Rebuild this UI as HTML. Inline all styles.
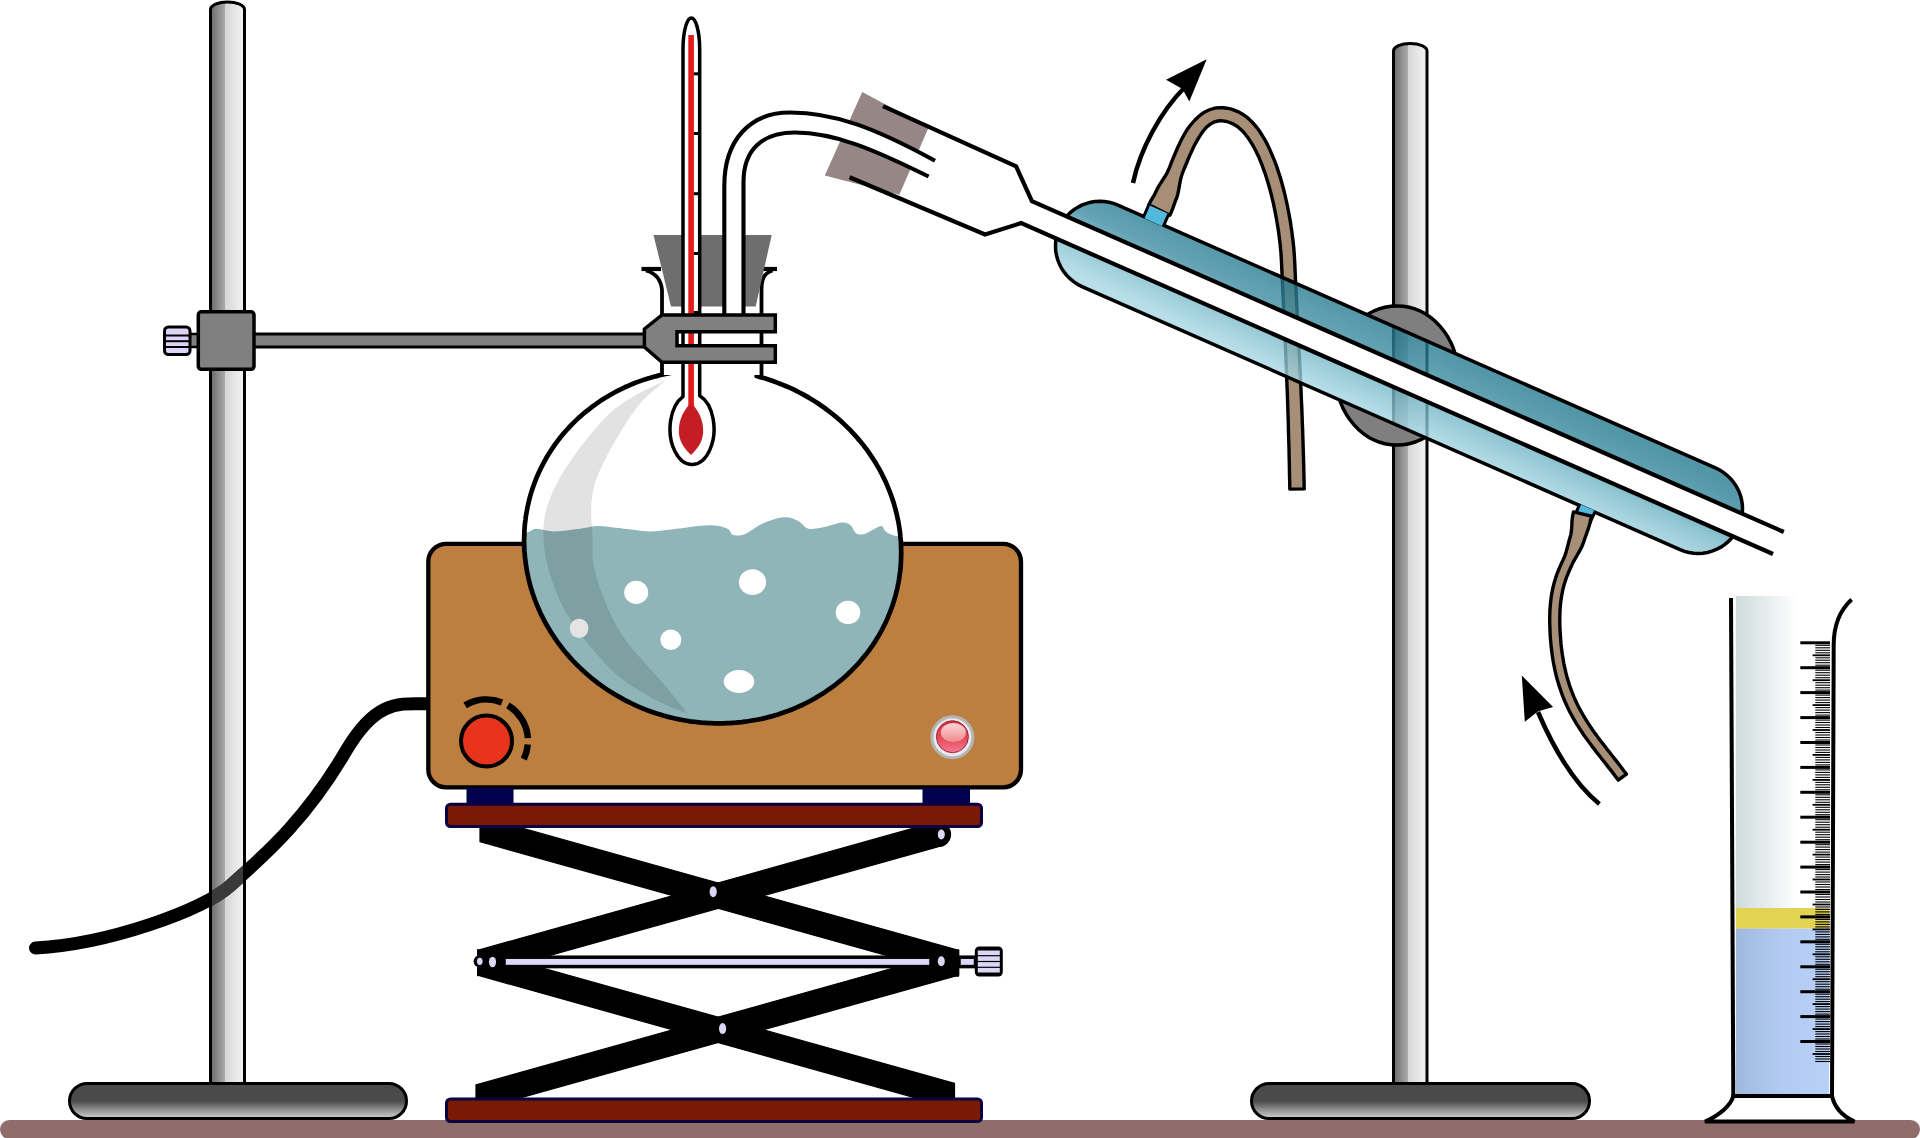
<!DOCTYPE html><html><head><meta charset="utf-8"><style>html,body{margin:0;padding:0;background:#fff;overflow:hidden}svg{display:block}</style></head><body><svg width="1920" height="1138" viewBox="0 0 1920 1138">
<defs>
<linearGradient id="rod" x1="0" y1="0" x2="1" y2="0">
 <stop offset="0" stop-color="#6a6a6a"/><stop offset="0.42" stop-color="#a9a9a9"/>
 <stop offset="0.42" stop-color="#d6d6d6"/><stop offset="1" stop-color="#f4f4f4"/></linearGradient>
<linearGradient id="base" x1="0" y1="0" x2="0" y2="1">
 <stop offset="0" stop-color="#4a4a4a"/><stop offset="0.5" stop-color="#4a4a4a"/><stop offset="1" stop-color="#d4d4d4"/></linearGradient>
<linearGradient id="cyl" x1="0" y1="0" x2="1" y2="0">
 <stop offset="0" stop-color="#cfdbdb"/><stop offset="0.65" stop-color="#ffffff"/></linearGradient>
<linearGradient id="blue" x1="0" y1="0" x2="1" y2="0">
 <stop offset="0" stop-color="#9fb8dc"/><stop offset="0.5" stop-color="#b3cbf2"/><stop offset="1" stop-color="#b8d0f6"/></linearGradient>
<radialGradient id="led" cx="0.5" cy="0.35" r="0.6">
 <stop offset="0" stop-color="#fbd3da"/><stop offset="0.5" stop-color="#ee6f86"/><stop offset="1" stop-color="#d5203e"/></radialGradient>
<radialGradient id="ring" cx="0.5" cy="0.5" r="0.5">
 <stop offset="0.6" stop-color="#f6f6f6"/><stop offset="1" stop-color="#b0b0b0"/></radialGradient>
</defs>
<rect width="1920" height="1138" fill="#ffffff"/>
<rect x="0" y="1120" width="1920" height="19" rx="9.5" fill="#906c6a"/>
<rect x="69.5" y="1083.5" width="337.0" height="35" rx="17.5" fill="url(#base)" stroke="#000" stroke-width="3"/>
<path d="M210.5 1083.5 V9.5 A17.0 7.5 0 0 1 244.5 9.5 V1083.5 Z" fill="url(#rod)" stroke="#000" stroke-width="3"/>
<path d="M35.5 948.0 C107.1 944.4 203.5 910.3 230.8 885.3 C258.5 859.9 302.6 825.0 346.2 750.5 C376.9 698.1 400.9 703.8 429.0 703.8" fill="none" stroke="#000" stroke-width="13" stroke-linecap="round" stroke-linejoin="round"/>
<clipPath id="rodclip"><rect x="212" y="0" width="31" height="1080"/></clipPath>
<path d="M35.5 948.0 C107.1 944.4 203.5 910.3 230.8 885.3 C258.5 859.9 302.6 825.0 346.2 750.5 C376.9 698.1 400.9 703.8 429.0 703.8" fill="none" stroke="#3a3a3a" stroke-width="13" clip-path="url(#rodclip)"/>
<rect x="250" y="334" width="400" height="13" fill="#808080" stroke="#000" stroke-width="3"/>
<rect x="189" y="334" width="10" height="13" fill="#808080" stroke="#000" stroke-width="2.5"/>
<rect x="164.5" y="327" width="25.5" height="27.5" rx="4" fill="#ddd3f6" stroke="#000" stroke-width="3"/>
<line x1="166" y1="335.5" x2="189" y2="335.5" stroke="#000" stroke-width="2"/>
<line x1="166" y1="341.2" x2="189" y2="341.2" stroke="#000" stroke-width="2"/>
<line x1="166" y1="347" x2="189" y2="347" stroke="#000" stroke-width="2"/>
<rect x="198.3" y="311.8" width="55.7" height="57.5" rx="3" fill="#808080" stroke="#000" stroke-width="3.5"/>
<rect x="1251.5" y="1083.5" width="338.0" height="35" rx="17.5" fill="url(#base)" stroke="#000" stroke-width="3"/>
<path d="M1393.5 1083.5 V51 A16.75 7.5 0 0 1 1427 51 V1083.5 Z" fill="url(#rod)" stroke="#000" stroke-width="3"/>
<rect x="428.3" y="543.8" width="592.7" height="243.6" rx="18" fill="#bd7f3f" stroke="#000" stroke-width="4.3"/>
<circle cx="486.5" cy="741" r="25.5" fill="#e8341c" stroke="#000" stroke-width="4"/>
<path d="M465.1 705.4 A41.5 41.5 0 0 1 502.0 702.5" fill="none" stroke="#000" stroke-width="6.5"/>
<path d="M507.9 705.4 A41.5 41.5 0 0 1 527.9 738.1" fill="none" stroke="#000" stroke-width="6.5"/>
<path d="M527.8 744.6 A41.5 41.5 0 0 1 523.8 759.2" fill="none" stroke="#000" stroke-width="6.5"/>
<circle cx="952.4" cy="737.3" r="20.5" fill="#e6e8ec" stroke="#b4b4b4" stroke-width="3"/>
<linearGradient id="ledg" x1="0" y1="0" x2="0" y2="1"><stop offset="0" stop-color="#c83040"/><stop offset="0.55" stop-color="#e84a5c"/><stop offset="1" stop-color="#f27a90"/></linearGradient>
<linearGradient id="ledh" x1="0" y1="0" x2="0" y2="1"><stop offset="0" stop-color="#fbd6d6"/><stop offset="1" stop-color="#f08a8e"/></linearGradient>
<circle cx="952.4" cy="736.7" r="16" fill="url(#ledg)" stroke="#a02838" stroke-width="1"/>
<ellipse cx="953.3" cy="732.5" rx="12.5" ry="9.5" fill="url(#ledh)"/>
<rect x="466.5" y="788" width="47" height="15" fill="#00004e"/>
<rect x="922.5" y="788" width="47.5" height="15" fill="#00004e"/>
<polygon points="480.0,816.3 958.6,950.3 958.6,975.7 480.0,841.7" fill="#000" stroke="#000" stroke-width="1.2" stroke-linejoin="round"/>
<polygon points="477.6,950.3 938.5,821.2 938.5,846.7 477.6,975.7" fill="#000" stroke="#000" stroke-width="1.2" stroke-linejoin="round"/>
<polygon points="476.0,1084.9 958.6,949.8 958.6,975.2 476.0,1110.3" fill="#000" stroke="#000" stroke-width="1.2" stroke-linejoin="round"/>
<polygon points="477.6,949.8 954.5,1083.3 954.5,1108.8 477.6,975.2" fill="#000" stroke="#000" stroke-width="1.2" stroke-linejoin="round"/>
<circle cx="938.5" cy="834.5" r="12.6" fill="#000"/>
<rect x="504" y="957.2" width="427" height="9.4" fill="#ddd6f6" stroke="#000" stroke-width="3.5"/>
<rect x="959" y="957.2" width="16.5" height="9.4" fill="#ddd6f6" stroke="#000" stroke-width="3.5"/>
<rect x="931" y="950.7" width="28" height="26" fill="#000"/>
<rect x="477.6" y="950.5" width="26" height="25.5" fill="#000"/>
<circle cx="479.8" cy="961.3" r="6.2" fill="#000"/>
<rect x="974.8" y="946.5" width="28" height="30" rx="4.5" fill="#000"/>
<rect x="977.8" y="950.5" width="22" height="4.6" fill="#ddd6f6"/>
<rect x="977.8" y="956.3000000000001" width="22" height="4.6" fill="#ddd6f6"/>
<rect x="977.8" y="962.1" width="22" height="4.6" fill="#ddd6f6"/>
<rect x="977.8" y="967.9000000000001" width="22" height="4.6" fill="#ddd6f6"/>
<ellipse cx="713.2" cy="891.7" rx="3.6" ry="5.5" fill="#ddd6f6"/>
<ellipse cx="722.6" cy="1028.6" rx="3.6" ry="5.5" fill="#ddd6f6"/>
<ellipse cx="941.3" cy="834.5" rx="3.5" ry="5" fill="#ddd6f6"/>
<ellipse cx="492.5" cy="962" rx="3.6" ry="5.2" fill="#ddd6f6"/>
<ellipse cx="941.3" cy="961.3" rx="3.5" ry="5" fill="#ddd6f6"/>
<ellipse cx="479.8" cy="961.3" rx="2.8" ry="3.6" fill="#ddd6f6"/>
<rect x="446.5" y="804.2" width="535" height="22.3" rx="4" fill="#7a1906" stroke="#0a0040" stroke-width="3"/>
<rect x="446.5" y="1099" width="535" height="22.5" rx="4" fill="#7a1906" stroke="#0a0040" stroke-width="3"/>
<clipPath id="flaskclip"><path d="M896.3 592.7 L895.5 595.6 L894.6 598.6 L893.8 601.5 L892.8 604.5 L891.8 607.4 L890.8 610.3 L889.7 613.1 L888.5 616.0 L887.3 618.8 L886.0 621.6 L884.7 624.4 L883.3 627.1 L881.9 629.9 L880.4 632.6 L878.9 635.3 L877.3 637.9 L875.7 640.6 L874.0 643.2 L872.3 645.7 L870.5 648.3 L868.7 650.8 L866.8 653.3 L864.9 655.7 L862.9 658.1 L860.9 660.5 L858.9 662.8 L856.8 665.1 L854.6 667.4 L852.5 669.6 L850.2 671.8 L848.0 674.0 L845.6 676.1 L843.3 678.2 L840.9 680.2 L838.5 682.2 L836.0 684.2 L833.5 686.1 L830.9 688.0 L828.4 689.8 L825.7 691.6 L823.1 693.3 L820.4 695.0 L817.7 696.7 L814.9 698.3 L812.2 699.9 L809.4 701.4 L806.5 702.8 L803.6 704.3 L800.8 705.6 L797.8 707.0 L794.9 708.2 L791.9 709.5 L788.9 710.6 L785.9 711.8 L782.8 712.8 L779.8 713.9 L776.7 714.8 L773.6 715.7 L770.5 716.6 L767.3 717.4 L764.2 718.2 L761.0 718.9 L757.8 719.6 L754.6 720.2 L751.4 720.7 L748.2 721.2 L744.9 721.7 L741.7 722.1 L738.4 722.4 L735.2 722.7 L731.9 723.0 L728.6 723.1 L725.3 723.3 L722.1 723.3 L718.8 723.4 L715.5 723.3 L712.2 723.2 L708.9 723.1 L705.6 722.9 L702.3 722.7 L699.0 722.4 L695.8 722.0 L692.5 721.6 L689.2 721.1 L685.9 720.6 L682.7 720.0 L679.5 719.4 L676.2 718.8 L673.0 718.0 L669.8 717.2 L666.6 716.4 L663.4 715.5 L660.2 714.6 L657.1 713.6 L653.9 712.6 L650.8 711.5 L647.7 710.4 L644.6 709.2 L641.6 707.9 L638.6 706.6 L635.5 705.3 L632.5 703.9 L629.6 702.5 L626.6 701.0 L623.7 699.5 L620.8 697.9 L618.0 696.3 L615.1 694.6 L612.3 692.9 L609.6 691.2 L606.8 689.4 L604.1 687.5 L601.5 685.7 L598.8 683.7 L596.2 681.8 L593.6 679.8 L591.1 677.7 L588.6 675.6 L586.2 673.5 L583.7 671.3 L581.3 669.1 L579.0 666.9 L576.7 664.6 L574.4 662.3 L572.2 659.9 L570.1 657.5 L567.9 655.1 L565.8 652.7 L563.8 650.2 L561.8 647.7 L559.9 645.1 L557.9 642.5 L556.1 639.9 L554.3 637.3 L552.5 634.6 L550.8 632.0 L549.1 629.2 L547.5 626.5 L546.0 623.7 L544.5 620.9 L543.0 618.1 L541.6 615.3 L540.2 612.4 L538.9 609.6 L537.7 606.7 L536.5 603.8 L535.3 600.8 L534.2 597.9 L533.2 594.9 L532.2 592.0 L531.3 589.0 L530.4 586.0 L529.6 583.0 L528.8 579.9 L528.1 576.9 L527.5 573.8 L526.9 570.8 L526.4 567.7 L525.9 564.7 L525.5 561.6 L525.1 558.5 L524.8 555.4 L524.5 552.4 L524.4 549.3 L524.2 546.2 L524.1 543.1 L524.1 540.0 L524.2 536.9 L524.3 533.9 L524.4 530.8 L524.6 527.7 L524.9 524.6 L525.2 521.6 L525.6 518.5 L526.0 515.5 L526.5 512.5 L527.1 509.4 L527.7 506.4 L528.3 503.4 L529.1 500.4 L529.8 497.5 L530.7 494.5 L531.6 491.6 L532.5 488.6 L533.5 485.7 L534.6 482.8 L535.7 480.0 L536.8 477.1 L538.0 474.3 L539.3 471.5 L540.6 468.7 L542.0 466.0 L543.4 463.2 L544.9 460.5 L546.4 457.8 L548.0 455.2 L549.6 452.5 L551.3 449.9 L553.0 447.4 L554.8 444.8 L556.6 442.3 L558.5 439.8 L560.4 437.4 L562.4 435.0 L564.4 432.6 L566.4 430.3 L568.5 428.0 L570.7 425.7 L572.9 423.5 L575.1 421.3 L577.4 419.1 L579.7 417.0 L582.0 414.9 L584.4 412.9 L586.9 410.9 L589.3 408.9 L591.8 407.0 L594.4 405.1 L597.0 403.3 L599.6 401.5 L602.2 399.8 L604.9 398.1 L607.6 396.4 L610.4 394.8 L613.2 393.2 L616.0 391.7 L618.8 390.3 L621.7 388.8 L624.6 387.5 L627.5 386.1 L630.4 384.9 L633.4 383.6 L636.4 382.5 L639.4 381.3 L642.5 380.3 L645.5 379.2 L648.6 378.3 L651.7 377.4 L654.9 376.5 L658.0 375.7 L661.2 374.9 L664.3 374.2 L667.5 373.5 L670.7 372.9 L673.9 372.4 L677.2 371.9 L680.4 371.4 L683.6 371.0 L686.9 370.7 L690.2 370.4 L693.4 370.1 L696.7 370.0 L700.0 369.8 L703.3 369.8 L706.6 369.7 L709.8 369.8 L713.1 369.9 L716.4 370.0 L719.7 370.2 L723.0 370.4 L726.3 370.7 L729.6 371.1 L732.8 371.5 L736.1 372.0 L739.4 372.5 L742.6 373.1 L745.9 373.7 L749.1 374.3 L752.3 375.1 L755.5 375.9 L758.7 376.7 L761.9 377.6 L765.1 378.5 L768.2 379.5 L771.4 380.5 L774.5 381.6 L777.6 382.7 L780.7 383.9 L783.7 385.2 L786.8 386.5 L789.8 387.8 L792.8 389.2 L795.7 390.6 L798.7 392.1 L801.6 393.6 L804.5 395.2 L807.3 396.8 L810.2 398.5 L813.0 400.2 L815.7 401.9 L818.5 403.7 L821.2 405.6 L823.9 407.4 L826.5 409.4 L829.1 411.3 L831.7 413.3 L834.2 415.4 L836.7 417.5 L839.2 419.6 L841.6 421.8 L844.0 424.0 L846.3 426.2 L848.6 428.5 L850.9 430.8 L853.1 433.2 L855.3 435.6 L857.4 438.0 L859.5 440.4 L861.5 442.9 L863.5 445.4 L865.5 448.0 L867.4 450.6 L869.2 453.2 L871.0 455.8 L872.8 458.5 L874.5 461.1 L876.2 463.9 L877.8 466.6 L879.4 469.4 L880.9 472.2 L882.3 475.0 L883.7 477.8 L885.1 480.7 L886.4 483.5 L887.6 486.4 L888.8 489.3 L890.0 492.3 L891.1 495.2 L892.1 498.2 L893.1 501.1 L894.0 504.1 L894.9 507.1 L895.7 510.1 L896.5 513.2 L897.2 516.2 L897.8 519.3 L898.4 522.3 L898.9 525.4 L899.4 528.4 L899.8 531.5 L900.2 534.6 L900.5 537.7 L900.8 540.7 L901.0 543.8 L901.1 546.9 L901.2 550.0 L901.2 553.1 L901.2 556.2 L901.1 559.2 L900.9 562.3 L900.7 565.4 L900.4 568.5 L900.1 571.5 L899.7 574.6 L899.3 577.6 L898.8 580.6 L898.2 583.7 L897.6 586.7 L897.0 589.7 Z"/></clipPath>
<path d="M896.3 592.7 L895.5 595.6 L894.6 598.6 L893.8 601.5 L892.8 604.5 L891.8 607.4 L890.8 610.3 L889.7 613.1 L888.5 616.0 L887.3 618.8 L886.0 621.6 L884.7 624.4 L883.3 627.1 L881.9 629.9 L880.4 632.6 L878.9 635.3 L877.3 637.9 L875.7 640.6 L874.0 643.2 L872.3 645.7 L870.5 648.3 L868.7 650.8 L866.8 653.3 L864.9 655.7 L862.9 658.1 L860.9 660.5 L858.9 662.8 L856.8 665.1 L854.6 667.4 L852.5 669.6 L850.2 671.8 L848.0 674.0 L845.6 676.1 L843.3 678.2 L840.9 680.2 L838.5 682.2 L836.0 684.2 L833.5 686.1 L830.9 688.0 L828.4 689.8 L825.7 691.6 L823.1 693.3 L820.4 695.0 L817.7 696.7 L814.9 698.3 L812.2 699.9 L809.4 701.4 L806.5 702.8 L803.6 704.3 L800.8 705.6 L797.8 707.0 L794.9 708.2 L791.9 709.5 L788.9 710.6 L785.9 711.8 L782.8 712.8 L779.8 713.9 L776.7 714.8 L773.6 715.7 L770.5 716.6 L767.3 717.4 L764.2 718.2 L761.0 718.9 L757.8 719.6 L754.6 720.2 L751.4 720.7 L748.2 721.2 L744.9 721.7 L741.7 722.1 L738.4 722.4 L735.2 722.7 L731.9 723.0 L728.6 723.1 L725.3 723.3 L722.1 723.3 L718.8 723.4 L715.5 723.3 L712.2 723.2 L708.9 723.1 L705.6 722.9 L702.3 722.7 L699.0 722.4 L695.8 722.0 L692.5 721.6 L689.2 721.1 L685.9 720.6 L682.7 720.0 L679.5 719.4 L676.2 718.8 L673.0 718.0 L669.8 717.2 L666.6 716.4 L663.4 715.5 L660.2 714.6 L657.1 713.6 L653.9 712.6 L650.8 711.5 L647.7 710.4 L644.6 709.2 L641.6 707.9 L638.6 706.6 L635.5 705.3 L632.5 703.9 L629.6 702.5 L626.6 701.0 L623.7 699.5 L620.8 697.9 L618.0 696.3 L615.1 694.6 L612.3 692.9 L609.6 691.2 L606.8 689.4 L604.1 687.5 L601.5 685.7 L598.8 683.7 L596.2 681.8 L593.6 679.8 L591.1 677.7 L588.6 675.6 L586.2 673.5 L583.7 671.3 L581.3 669.1 L579.0 666.9 L576.7 664.6 L574.4 662.3 L572.2 659.9 L570.1 657.5 L567.9 655.1 L565.8 652.7 L563.8 650.2 L561.8 647.7 L559.9 645.1 L557.9 642.5 L556.1 639.9 L554.3 637.3 L552.5 634.6 L550.8 632.0 L549.1 629.2 L547.5 626.5 L546.0 623.7 L544.5 620.9 L543.0 618.1 L541.6 615.3 L540.2 612.4 L538.9 609.6 L537.7 606.7 L536.5 603.8 L535.3 600.8 L534.2 597.9 L533.2 594.9 L532.2 592.0 L531.3 589.0 L530.4 586.0 L529.6 583.0 L528.8 579.9 L528.1 576.9 L527.5 573.8 L526.9 570.8 L526.4 567.7 L525.9 564.7 L525.5 561.6 L525.1 558.5 L524.8 555.4 L524.5 552.4 L524.4 549.3 L524.2 546.2 L524.1 543.1 L524.1 540.0 L524.2 536.9 L524.3 533.9 L524.4 530.8 L524.6 527.7 L524.9 524.6 L525.2 521.6 L525.6 518.5 L526.0 515.5 L526.5 512.5 L527.1 509.4 L527.7 506.4 L528.3 503.4 L529.1 500.4 L529.8 497.5 L530.7 494.5 L531.6 491.6 L532.5 488.6 L533.5 485.7 L534.6 482.8 L535.7 480.0 L536.8 477.1 L538.0 474.3 L539.3 471.5 L540.6 468.7 L542.0 466.0 L543.4 463.2 L544.9 460.5 L546.4 457.8 L548.0 455.2 L549.6 452.5 L551.3 449.9 L553.0 447.4 L554.8 444.8 L556.6 442.3 L558.5 439.8 L560.4 437.4 L562.4 435.0 L564.4 432.6 L566.4 430.3 L568.5 428.0 L570.7 425.7 L572.9 423.5 L575.1 421.3 L577.4 419.1 L579.7 417.0 L582.0 414.9 L584.4 412.9 L586.9 410.9 L589.3 408.9 L591.8 407.0 L594.4 405.1 L597.0 403.3 L599.6 401.5 L602.2 399.8 L604.9 398.1 L607.6 396.4 L610.4 394.8 L613.2 393.2 L616.0 391.7 L618.8 390.3 L621.7 388.8 L624.6 387.5 L627.5 386.1 L630.4 384.9 L633.4 383.6 L636.4 382.5 L639.4 381.3 L642.5 380.3 L645.5 379.2 L648.6 378.3 L651.7 377.4 L654.9 376.5 L658.0 375.7 L661.2 374.9 L664.3 374.2 L667.5 373.5 L670.7 372.9 L673.9 372.4 L677.2 371.9 L680.4 371.4 L683.6 371.0 L686.9 370.7 L690.2 370.4 L693.4 370.1 L696.7 370.0 L700.0 369.8 L703.3 369.8 L706.6 369.7 L709.8 369.8 L713.1 369.9 L716.4 370.0 L719.7 370.2 L723.0 370.4 L726.3 370.7 L729.6 371.1 L732.8 371.5 L736.1 372.0 L739.4 372.5 L742.6 373.1 L745.9 373.7 L749.1 374.3 L752.3 375.1 L755.5 375.9 L758.7 376.7 L761.9 377.6 L765.1 378.5 L768.2 379.5 L771.4 380.5 L774.5 381.6 L777.6 382.7 L780.7 383.9 L783.7 385.2 L786.8 386.5 L789.8 387.8 L792.8 389.2 L795.7 390.6 L798.7 392.1 L801.6 393.6 L804.5 395.2 L807.3 396.8 L810.2 398.5 L813.0 400.2 L815.7 401.9 L818.5 403.7 L821.2 405.6 L823.9 407.4 L826.5 409.4 L829.1 411.3 L831.7 413.3 L834.2 415.4 L836.7 417.5 L839.2 419.6 L841.6 421.8 L844.0 424.0 L846.3 426.2 L848.6 428.5 L850.9 430.8 L853.1 433.2 L855.3 435.6 L857.4 438.0 L859.5 440.4 L861.5 442.9 L863.5 445.4 L865.5 448.0 L867.4 450.6 L869.2 453.2 L871.0 455.8 L872.8 458.5 L874.5 461.1 L876.2 463.9 L877.8 466.6 L879.4 469.4 L880.9 472.2 L882.3 475.0 L883.7 477.8 L885.1 480.7 L886.4 483.5 L887.6 486.4 L888.8 489.3 L890.0 492.3 L891.1 495.2 L892.1 498.2 L893.1 501.1 L894.0 504.1 L894.9 507.1 L895.7 510.1 L896.5 513.2 L897.2 516.2 L897.8 519.3 L898.4 522.3 L898.9 525.4 L899.4 528.4 L899.8 531.5 L900.2 534.6 L900.5 537.7 L900.8 540.7 L901.0 543.8 L901.1 546.9 L901.2 550.0 L901.2 553.1 L901.2 556.2 L901.1 559.2 L900.9 562.3 L900.7 565.4 L900.4 568.5 L900.1 571.5 L899.7 574.6 L899.3 577.6 L898.8 580.6 L898.2 583.7 L897.6 586.7 L897.0 589.7 Z" fill="#ffffff"/>
<path d="M515.0 533.0 L516.8 532.9 L519.3 532.9 L522.2 532.8 L525.1 532.5 L527.6 532.2 L529.5 531.6 L531.0 530.7 L532.4 529.8 L534.1 529.0 L536.4 528.7 L539.2 528.9 L542.3 529.6 L545.8 530.4 L549.7 531.1 L553.9 531.4 L558.8 531.2 L564.2 530.7 L569.9 530.0 L575.4 529.3 L580.3 528.7 L584.2 528.1 L587.6 527.4 L590.7 526.8 L594.0 526.3 L597.9 526.1 L602.6 526.3 L607.8 526.8 L613.3 527.4 L618.8 528.1 L624.2 528.7 L629.5 529.3 L634.8 530.0 L640.0 530.7 L645.3 531.2 L650.6 531.4 L655.8 531.2 L660.8 530.7 L666.0 530.1 L671.3 529.4 L677.0 528.7 L683.4 527.9 L690.5 527.0 L697.6 526.1 L704.3 525.5 L710.0 525.2 L714.7 525.4 L718.7 526.0 L722.2 526.8 L725.1 527.7 L727.6 528.7 L729.3 529.9 L730.2 531.3 L730.8 532.8 L731.5 534.1 L732.8 534.9 L734.7 535.3 L737.0 535.5 L739.5 535.4 L742.2 534.9 L745.1 534.0 L748.2 532.4 L751.6 530.2 L755.2 527.8 L758.9 525.4 L762.7 523.4 L766.8 521.7 L771.2 520.2 L775.7 518.8 L780.0 517.8 L783.8 517.3 L787.1 517.3 L790.1 517.8 L792.9 518.6 L795.4 519.7 L797.9 520.8 L800.1 522.3 L802.1 524.1 L804.0 526.0 L806.0 527.7 L808.4 528.7 L811.2 529.0 L814.3 528.8 L817.5 528.3 L820.8 527.7 L824.2 527.0 L827.7 526.2 L831.5 525.1 L835.3 524.0 L838.8 523.1 L841.8 522.6 L844.2 522.6 L846.1 522.9 L847.8 523.4 L849.2 524.2 L850.6 525.2 L851.8 526.6 L852.8 528.3 L853.7 530.2 L854.7 531.9 L855.9 533.1 L857.3 533.9 L858.8 534.4 L860.5 534.6 L862.4 534.5 L864.7 534.0 L867.6 532.8 L871.0 530.8 L874.6 528.7 L877.9 527.0 L880.5 526.1 L882.2 526.3 L883.2 527.3 L883.9 528.7 L884.6 530.2 L885.7 531.4 L887.1 532.4 L888.6 533.4 L890.3 534.3 L892.3 535.1 L894.5 535.7 L897.4 536.0 L901.0 536.1 L904.6 536.1 L907.8 536.0 L910.0 536.0 L910 740 L515 740 Z" fill="#8fb5b8" clip-path="url(#flaskclip)"/>
<path d="M666.0 380.0 L661.7 382.3 L655.9 385.1 L649.0 388.3 L641.3 392.1 L633.2 396.5 L625.1 401.4 L617.2 406.9 L610.0 413.0 L603.0 420.1 L595.6 428.2 L588.2 437.1 L580.8 446.5 L573.9 456.1 L567.4 465.5 L561.7 474.6 L557.0 483.0 L553.2 490.7 L550.1 497.9 L547.6 504.9 L545.7 511.7 L544.4 518.5 L543.6 525.4 L543.3 532.5 L543.5 540.0 L544.2 547.9 L545.5 556.2 L547.3 564.7 L549.6 573.3 L552.4 582.0 L555.6 590.5 L559.1 598.9 L563.0 607.0 L567.4 615.0 L572.5 623.1 L578.1 631.1 L584.1 639.0 L590.2 646.6 L596.4 653.8 L602.3 660.5 L608.0 666.5 L613.4 671.8 L618.8 676.5 L624.1 680.7 L629.4 684.4 L634.7 687.8 L639.9 691.0 L645.0 694.0 L650.0 697.0 L655.2 699.9 L660.7 702.6 L666.2 705.1 L671.6 707.4 L676.7 709.5 L681.3 711.3 L685.1 712.8 L688.0 714.0 L688.0 714.0 L686.1 711.7 L683.7 708.7 L680.9 705.1 L677.6 701.1 L674.1 696.7 L670.2 692.0 L666.2 687.1 L662.0 682.0 L657.4 676.7 L652.2 670.9 L646.6 664.9 L640.9 658.6 L635.1 652.1 L629.6 645.4 L624.5 638.7 L620.0 632.0 L616.0 625.1 L612.3 617.7 L608.8 610.2 L605.6 602.6 L602.7 595.1 L600.1 587.9 L597.9 581.1 L596.0 575.0 L594.5 569.7 L593.6 565.2 L593.0 561.2 L592.7 557.5 L592.5 553.8 L592.6 549.8 L592.6 545.3 L592.6 540.0 L592.4 534.0 L592.0 527.6 L591.5 520.8 L591.2 513.7 L591.2 506.3 L591.8 498.7 L593.0 490.9 L595.0 483.0 L598.1 474.6 L602.1 465.5 L606.9 456.0 L612.1 446.3 L617.6 436.9 L623.0 427.9 L628.2 419.8 L633.0 412.7 L637.6 406.6 L642.4 401.1 L647.2 396.2 L651.9 392.0 L656.3 388.2 L660.2 385.0 L663.5 382.3 L666.0 380.0 Z" fill="#000" opacity="0.115" clip-path="url(#flaskclip)"/>
<ellipse cx="636.2" cy="592.4" rx="12" ry="11.6" fill="#fff"/>
<ellipse cx="752.5" cy="582.2" rx="13.6" ry="12.9" fill="#fff"/>
<ellipse cx="848" cy="612.4" rx="12.3" ry="11.7" fill="#fff"/>
<ellipse cx="670.8" cy="639.8" rx="10.5" ry="10.3" fill="#fff"/>
<ellipse cx="739" cy="681.5" rx="15.3" ry="11.4" fill="#fff"/>
<ellipse cx="579.1" cy="628.4" rx="9.3" ry="9.6" fill="#e4e4e4"/>
<path d="M671.2 372.8 L668.2 373.4 L665.3 374.0 L662.3 374.6 L659.4 375.3 L656.5 376.1 L653.6 376.8 L650.7 377.7 L647.8 378.5 L644.9 379.4 L642.1 380.4 L639.3 381.4 L636.5 382.4 L633.7 383.5 L630.9 384.7 L628.2 385.8 L625.5 387.0 L622.8 388.3 L620.1 389.6 L617.5 390.9 L614.9 392.3 L612.3 393.7 L609.7 395.2 L607.1 396.7 L604.6 398.2 L602.1 399.8 L599.7 401.4 L597.3 403.1 L594.9 404.8 L592.5 406.5 L590.2 408.3 L587.9 410.1 L585.6 411.9 L583.3 413.8 L581.1 415.7 L579.0 417.6 L576.8 419.6 L574.7 421.6 L572.7 423.6 L570.7 425.7 L568.7 427.8 L566.7 430.0 L564.8 432.1 L562.9 434.3 L561.1 436.5 L559.3 438.8 L557.5 441.1 L555.8 443.4 L554.2 445.7 L552.5 448.1 L550.9 450.5 L549.4 452.9 L547.9 455.3 L546.4 457.8 L545.0 460.3 L543.6 462.8 L542.3 465.3 L541.0 467.9 L539.8 470.5 L538.6 473.1 L537.4 475.7 L536.3 478.3 L535.3 480.9 L534.3 483.6 L533.3 486.3 L532.4 489.0 L531.5 491.7 L530.7 494.4 L529.9 497.2 L529.2 499.9 L528.5 502.7 L527.9 505.5 L527.3 508.3 L526.8 511.1 L526.3 513.9 L525.8 516.7 L525.5 519.5 L525.1 522.3 L524.8 525.2 L524.6 528.0 L524.4 530.9 L524.3 533.7 L524.2 536.6 L524.1 539.4 L524.1 542.3 L524.2 545.1 L524.3 548.0 L524.4 550.9 L524.7 553.7 L524.9 556.6 L525.2 559.4 L525.6 562.3 L526.0 565.1 L526.4 568.0 L526.9 570.8 L527.5 573.7 L528.1 576.5 L528.7 579.3 L529.4 582.1 L530.1 584.9 L530.9 587.7 L531.8 590.5 L532.6 593.2 L533.6 596.0 L534.5 598.7 L535.6 601.5 L536.6 604.2 L537.8 606.9 L538.9 609.5 L540.1 612.2 L541.4 614.9 L542.7 617.5 L544.0 620.1 L545.4 622.7 L546.8 625.3 L548.3 627.8 L549.8 630.3 L551.4 632.9 L553.0 635.3 L554.6 637.8 L556.3 640.2 L558.0 642.7 L559.8 645.0 L561.6 647.4 L563.4 649.7 L565.3 652.1 L567.3 654.3 L569.2 656.6 L571.2 658.8 L573.2 661.0 L575.3 663.2 L577.4 665.3 L579.6 667.4 L581.8 669.5 L584.0 671.5 L586.2 673.5 L588.5 675.5 L590.8 677.5 L593.1 679.4 L595.5 681.2 L597.9 683.1 L600.4 684.9 L602.8 686.6 L605.3 688.4 L607.8 690.1 L610.4 691.7 L613.0 693.3 L615.6 694.9 L618.2 696.4 L620.9 697.9 L623.5 699.4 L626.2 700.8 L629.0 702.2 L631.7 703.5 L634.5 704.8 L637.3 706.1 L640.1 707.3 L642.9 708.5 L645.7 709.6 L648.6 710.7 L651.5 711.7 L654.4 712.7 L657.3 713.7 L660.2 714.6 L663.1 715.5 L666.1 716.3 L669.0 717.1 L672.0 717.8 L675.0 718.5 L678.0 719.1 L681.0 719.7 L684.0 720.3 L687.0 720.8 L690.1 721.3 L693.1 721.7 L696.1 722.0 L699.2 722.4 L702.2 722.7 L705.3 722.9 L708.3 723.1 L711.4 723.2 L714.4 723.3 L717.5 723.4 L720.5 723.4 L723.6 723.3 L726.6 723.2 L729.6 723.1 L732.7 722.9 L735.7 722.7 L738.7 722.4 L741.8 722.1 L744.8 721.7 L747.8 721.3 L750.8 720.8 L753.7 720.3 L756.7 719.8 L759.7 719.2 L762.6 718.6 L765.6 717.9 L768.5 717.1 L771.4 716.4 L774.3 715.5 L777.2 714.7 L780.0 713.8 L782.9 712.8 L785.7 711.8 L788.5 710.8 L791.3 709.7 L794.0 708.6 L796.8 707.4 L799.5 706.2 L802.2 705.0 L804.9 703.7 L807.5 702.3 L810.1 701.0 L812.7 699.5 L815.3 698.1 L817.8 696.6 L820.4 695.1 L822.9 693.5 L825.3 691.9 L827.7 690.2 L830.2 688.5 L832.5 686.8 L834.9 685.1 L837.2 683.3 L839.4 681.4 L841.7 679.6 L843.9 677.7 L846.1 675.7 L848.2 673.8 L850.3 671.8 L852.4 669.7 L854.4 667.6 L856.4 665.5 L858.4 663.4 L860.3 661.3 L862.1 659.1 L864.0 656.8 L865.8 654.6 L867.5 652.3 L869.3 650.0 L870.9 647.7 L872.6 645.3 L874.2 642.9 L875.7 640.5 L877.2 638.1 L878.7 635.6 L880.1 633.1 L881.5 630.6 L882.8 628.1 L884.1 625.5 L885.4 623.0 L886.6 620.4 L887.7 617.8 L888.8 615.1 L889.9 612.5 L890.9 609.8 L891.9 607.2 L892.8 604.5 L893.7 601.7 L894.5 599.0 L895.3 596.3 L896.0 593.5 L896.7 590.8 L897.4 588.0 L897.9 585.2 L898.5 582.4 L899.0 579.6 L899.4 576.8 L899.8 574.0 L900.2 571.1 L900.5 568.3 L900.7 565.5 L900.9 562.6 L901.0 559.8 L901.1 556.9 L901.2 554.0 L901.2 551.2 L901.1 548.3 L901.0 545.5 L900.9 542.6 L900.7 539.7 L900.4 536.9 L900.2 534.0 L899.8 531.2 L899.4 528.3 L899.0 525.5 L898.5 522.6 L897.9 519.8 L897.3 517.0 L896.7 514.2 L896.0 511.4 L895.3 508.6 L894.5 505.8 L893.7 503.0 L892.8 500.2 L891.9 497.5 L890.9 494.7 L889.9 492.0 L888.8 489.3 L887.7 486.6 L886.6 483.9 L885.4 481.2 L884.1 478.6 L882.8 475.9 L881.5 473.3 L880.1 470.7 L878.7 468.2 L877.2 465.6 L875.7 463.1 L874.1 460.6 L872.6 458.1 L870.9 455.6 L869.2 453.2 L867.5 450.7 L865.8 448.4 L864.0 446.0 L862.1 443.6 L860.2 441.3 L858.3 439.1 L856.4 436.8 L854.4 434.6 L852.3 432.4 L850.3 430.2 L848.2 428.1 L846.0 425.9 L843.8 423.9 L841.6 421.8 L839.4 419.8 L837.1 417.8 L834.8 415.9 L832.5 414.0 L830.1 412.1 L827.7 410.3 L825.3 408.5 L822.8 406.7 L820.3 405.0 L817.8 403.3 L815.3 401.6 L812.7 400.0 L810.1 398.4 L807.5 396.9 L804.8 395.4 L802.1 393.9 L799.4 392.5 L796.7 391.1 L794.0 389.7 L791.2 388.4 L788.4 387.2 L785.6 386.0 L782.8 384.8 L780.0 383.7 L777.1 382.6 L774.2 381.5 L771.3 380.5 L768.4 379.5 L765.5 378.6 L762.6 377.8 L759.6 376.9 L756.7 376.1" fill="none" stroke="#000" stroke-width="4.7" stroke-linecap="round"/>
<rect x="662" y="272" width="100" height="103" fill="#fff"/>
<path d="M641.5 269 H661" fill="none" stroke="#000" stroke-width="4.2"/>
<path d="M646 270.5 C655 273 661 279 662 290 V376" fill="none" stroke="#000" stroke-width="3.8"/>
<path d="M777 269 H760" fill="none" stroke="#000" stroke-width="4.2"/>
<path d="M772.5 270.5 C764 273 761.5 279 761.5 290 V376" fill="none" stroke="#000" stroke-width="3.8"/>
<polygon points="653.5,235 771.7,235 755.7,306.4 671,306.4" fill="#6e6e6e"/>
<polygon points="862.2,91.9 928.6,127.5 899.3,194.7 824.8,175.6" fill="#968686"/>
<path d="M724.3 314 V186 C724.3 140 750 112.5 790 112.5 C840 112.5 880 128 935 160.7 L928.6 176.5 C880 150 840 132.5 795 132.5 C762 132.5 743.5 150 743.5 182 V314 Z" fill="#fff"/>
<path d="M724.3 314 V186 C724.3 140 750 112.5 790 112.5 C835 112.5 875 128 935 160.7" fill="none" stroke="#000" stroke-width="4.1"/>
<path d="M743.5 314 V182 C743.5 150 762 132.5 795 132.5 C835 132.5 875 150 928.6 176.5" fill="none" stroke="#000" stroke-width="4.1"/>
<path d="M683 396.6 V50 C683 29 687.5 18 691.3 18 C695.1 18 699.7 29 699.7 50 V395.7 A22 35.5 0 1 1 683 396.6 Z" fill="#fff" stroke="#000" stroke-width="3.5" stroke-linejoin="round"/>
<rect x="688.3" y="35" width="5.6" height="380" fill="#e31b1b"/>
<path d="M691 403 C701 412 704 425 703 434 C702 443 697 449 691 455 C685 449 680 443 679 434 C678 425 681 412 691 403 Z" fill="#c41e24"/>
<line x1="693.9" y1="73.8" x2="699.5" y2="73.8" stroke="#000" stroke-width="3"/>
<line x1="693.9" y1="133.5" x2="699.5" y2="133.5" stroke="#000" stroke-width="3"/>
<line x1="693.9" y1="193.7" x2="699.5" y2="193.7" stroke="#000" stroke-width="3"/>
<line x1="693.9" y1="253.5" x2="699.5" y2="253.5" stroke="#000" stroke-width="3"/>
<line x1="693.9" y1="312.5" x2="699.5" y2="312.5" stroke="#000" stroke-width="3"/>
<path d="M662 315 H775.3 V331.8 H677 V345.8 H775.3 V362.2 H662 L644.4 347 V329 Z" fill="#808080" stroke="#000" stroke-width="3.5" stroke-linejoin="miter"/>
<polygon points="1169.8,215.3 1171.4,212.0 1172.8,208.3 1174.1,204.7 1175.4,201.0 1176.9,197.4 1177.9,193.6 1178.7,189.6 1179.4,185.7 1180.1,181.7 1181.0,177.9 1182.1,174.1 1183.5,170.5 1184.9,167.0 1186.4,163.5 1187.8,160.0 1189.2,156.6 1190.7,153.4 1192.1,150.2 1193.6,147.1 1195.1,144.1 1196.7,141.3 1198.2,138.6 1199.8,136.1 1201.3,133.7 1202.9,131.5 1204.5,129.5 1206.1,127.6 1207.8,126.1 1209.5,124.7 1211.2,123.6 1212.9,122.6 1214.7,121.9 1216.5,121.3 1218.4,121.0 1220.3,120.8 1222.4,120.9 1224.7,121.2 1227.1,121.7 1229.6,122.5 1232.4,123.6 1234.4,124.7 1236.5,125.9 1238.5,127.4 1240.5,129.2 1242.5,131.1 1244.5,133.3 1246.4,135.7 1248.4,138.3 1250.2,141.1 1252.1,144.1 1253.9,147.2 1255.6,150.6 1257.3,154.0 1259.0,157.6 1260.5,161.3 1262.1,165.2 1263.5,169.1 1265.0,173.1 1266.3,177.2 1267.6,181.4 1268.9,185.7 1270.0,189.9 1271.2,194.2 1272.2,198.6 1273.3,202.9 1274.2,207.3 1275.1,211.6 1275.9,216.0 1276.7,220.2 1277.4,224.5 1278.1,228.7 1278.7,232.8 1279.2,236.9 1279.7,240.8 1280.2,244.7 1280.5,248.5 1280.9,252.1 1281.1,255.6 1281.3,259.0 1281.5,262.2 1281.7,266.7 1281.9,271.3 1282.1,275.9 1282.3,280.6 1282.6,285.3 1282.8,290.1 1283.0,295.0 1283.3,299.9 1283.5,304.8 1283.8,309.9 1284.0,315.0 1284.2,320.1 1284.5,325.3 1284.7,330.6 1285.0,335.9 1285.2,341.3 1285.4,346.7 1285.7,352.2 1285.9,357.8 1286.1,363.4 1286.4,369.1 1286.6,374.9 1286.8,380.7 1287.0,386.5 1287.3,392.5 1287.5,398.5 1287.7,404.5 1287.9,410.6 1288.1,416.8 1288.3,423.1 1288.4,429.4 1288.6,435.8 1288.8,442.2 1289.0,448.7 1289.1,455.3 1289.3,461.9 1289.4,468.6 1289.5,475.4 1289.7,482.2 1289.8,489.1 1304.2,488.9 1304.1,482.0 1303.9,475.1 1303.8,468.3 1303.6,461.6 1303.4,454.9 1303.2,448.3 1303.0,441.8 1302.8,435.3 1302.6,428.9 1302.3,422.6 1302.1,416.3 1301.9,410.1 1301.6,404.0 1301.3,397.9 1301.1,391.9 1300.8,386.0 1300.5,380.1 1300.3,374.3 1300.0,368.5 1299.7,362.8 1299.4,357.2 1299.1,351.6 1298.9,346.1 1298.6,340.6 1298.3,335.3 1298.0,329.9 1297.8,324.7 1297.5,319.5 1297.2,314.3 1297.0,309.2 1296.7,304.2 1296.5,299.2 1296.2,294.3 1296.0,289.5 1295.8,284.7 1295.5,280.0 1295.3,275.3 1295.1,270.7 1294.9,266.1 1294.7,261.6 1294.5,258.2 1294.3,254.7 1294.0,251.0 1293.7,247.2 1293.3,243.3 1292.8,239.3 1292.3,235.2 1291.8,231.0 1291.1,226.7 1290.5,222.4 1289.7,218.0 1288.9,213.5 1288.0,209.0 1287.1,204.5 1286.1,200.0 1285.1,195.5 1284.0,191.0 1282.8,186.5 1281.6,182.0 1280.3,177.6 1278.9,173.2 1277.5,168.9 1276.0,164.6 1274.4,160.4 1272.7,156.3 1271.0,152.3 1269.3,148.4 1267.4,144.6 1265.5,140.9 1263.4,137.4 1261.3,134.0 1259.2,130.7 1256.9,127.6 1254.5,124.7 1252.0,122.0 1249.4,119.4 1246.7,117.1 1243.9,115.0 1240.9,113.2 1237.8,111.6 1234.1,110.1 1230.5,108.9 1226.9,108.2 1223.4,107.7 1220.0,107.6 1216.6,107.9 1213.4,108.5 1210.2,109.5 1207.3,110.7 1204.4,112.2 1201.7,114.0 1199.2,116.0 1196.8,118.2 1194.5,120.5 1192.3,123.0 1190.1,125.6 1188.1,128.3 1186.1,131.3 1184.3,134.3 1182.6,137.5 1180.9,140.7 1179.3,144.1 1177.7,147.5 1176.2,151.0 1174.7,154.5 1173.2,158.1 1171.7,161.7 1170.3,165.4 1168.9,169.0 1167.2,172.6 1165.3,176.0 1163.1,179.3 1161.0,182.6 1158.9,185.9 1157.1,189.1 1155.5,192.5 1153.9,195.7 1152.1,198.7 1150.4,201.7 1148.8,204.7" fill="#a78e76" stroke="#000" stroke-width="3.4" stroke-linejoin="round"/>
<linearGradient id="jg" gradientUnits="userSpaceOnUse" x1="1418.0" y1="337.1" x2="1380.0" y2="417.6"><stop offset="0" stop-color="#21788f"/><stop offset="0.35" stop-color="#38899e"/><stop offset="0.62" stop-color="#71b5c5"/><stop offset="1" stop-color="#a4d5e2"/></linearGradient>
<clipPath id="notjacket"><path clip-rule="evenodd" d="M0 0 H1920 V1138 H0 Z M1082.0 286.6 L1077.9 284.5 L1074.0 281.9 L1070.3 279.0 L1067.0 275.7 L1064.1 272.1 L1061.5 268.2 L1059.4 264.1 L1057.7 259.8 L1056.5 255.3 L1055.7 250.7 L1055.5 246.0 L1055.7 241.4 L1056.4 236.8 L1057.6 232.3 L1059.2 227.9 L1061.3 223.7 L1063.8 219.8 L1066.8 216.2 L1070.0 212.9 L1073.6 209.9 L1077.5 207.4 L1081.7 205.2 L1086.0 203.6 L1090.5 202.3 L1095.1 201.6 L1099.8 201.3 L1104.4 201.5 L1109.0 202.3 L1113.5 203.4 L1117.9 205.1 L1715.9 468.2 L1720.1 470.3 L1724.0 472.9 L1727.6 475.8 L1731.0 479.1 L1733.9 482.7 L1736.5 486.6 L1738.6 490.7 L1740.3 495.0 L1741.5 499.5 L1742.3 504.1 L1742.5 508.8 L1742.3 513.4 L1741.6 518.0 L1740.4 522.5 L1738.7 526.9 L1736.6 531.1 L1734.1 535.0 L1731.2 538.6 L1727.9 541.9 L1724.3 544.9 L1720.4 547.4 L1716.3 549.5 L1712.0 551.2 L1707.5 552.5 L1702.9 553.2 L1698.2 553.5 L1693.6 553.3 L1689.0 552.5 L1684.4 551.4 L1680.1 549.7 Z"/></clipPath>
<ellipse cx="1397" cy="375.5" rx="61" ry="69.5" fill="#7f7f7f" stroke="#000" stroke-width="3.5" clip-path="url(#notjacket)"/>
<path d="M1082.0 286.6 L1077.9 284.5 L1074.0 281.9 L1070.3 279.0 L1067.0 275.7 L1064.1 272.1 L1061.5 268.2 L1059.4 264.1 L1057.7 259.8 L1056.5 255.3 L1055.7 250.7 L1055.5 246.0 L1055.7 241.4 L1056.4 236.8 L1057.6 232.3 L1059.2 227.9 L1061.3 223.7 L1063.8 219.8 L1066.8 216.2 L1070.0 212.9 L1073.6 209.9 L1077.5 207.4 L1081.7 205.2 L1086.0 203.6 L1090.5 202.3 L1095.1 201.6 L1099.8 201.3 L1104.4 201.5 L1109.0 202.3 L1113.5 203.4 L1117.9 205.1 L1715.9 468.2 L1720.1 470.3 L1724.0 472.9 L1727.6 475.8 L1731.0 479.1 L1733.9 482.7 L1736.5 486.6 L1738.6 490.7 L1740.3 495.0 L1741.5 499.5 L1742.3 504.1 L1742.5 508.8 L1742.3 513.4 L1741.6 518.0 L1740.4 522.5 L1738.7 526.9 L1736.6 531.1 L1734.1 535.0 L1731.2 538.6 L1727.9 541.9 L1724.3 544.9 L1720.4 547.4 L1716.3 549.5 L1712.0 551.2 L1707.5 552.5 L1702.9 553.2 L1698.2 553.5 L1693.6 553.3 L1689.0 552.5 L1684.4 551.4 L1680.1 549.7 Z" fill="url(#jg)" fill-opacity="0.78" stroke="#000" stroke-width="3.5"/>
<path d="M1031.4 200.9 L1783.8 532.0 L1773.9 554.4 L1021.6 223.3 Z" fill="#fff"/>
<path d="M883.0 106.1 L1016.1 166.3 L1031.9 201.1 L1783.8 532.0" fill="none" stroke="#000" stroke-width="4.2"/>
<path d="M849.6 177.2 L985.0 234.5 L1021.1 223.1 L1773.0 554.0" fill="none" stroke="#000" stroke-width="4.2"/>
<path d="M883.0 106.1 L1016.1 166.3 L1031.9 201.1 L1021.6 223.3 L985.0 234.5 L849.6 177.2 Z" fill="#fff" fill-opacity="0"/>
<polygon points="1143.1,217.8 1148.7,205.0 1168.9,213.9 1163.2,226.7" fill="#52b8dc"/>
<path d="M1143.1 217.8 L1148.7 205.0 M1168.9 213.9 L1163.2 226.7" stroke="#000" stroke-width="3"/>
<polygon points="1579.8,503.9 1573.8,517.7 1589.3,524.5 1595.4,510.8" fill="#52b8dc"/>
<path d="M1579.8 503.9 L1573.8 517.7 M1589.3 524.5 L1595.4 510.8" stroke="#000" stroke-width="3"/>
<polygon points="1573.5,511.9 1573.5,512.0 1573.5,512.1 1573.5,512.2 1573.4,512.4 1573.4,512.5 1573.4,512.6 1573.4,512.7 1573.3,512.8 1573.3,512.9 1573.3,513.0 1573.3,513.1 1573.3,513.2 1573.2,513.3 1573.2,513.4 1573.2,513.5 1573.2,513.6 1573.1,513.7 1573.1,513.8 1573.1,513.9 1573.1,514.0 1573.0,514.1 1573.0,514.2 1573.0,514.3 1573.0,514.4 1573.0,514.5 1572.9,514.6 1572.9,514.7 1572.9,514.8 1572.9,514.9 1572.8,515.0 1572.8,515.1 1572.8,515.2 1572.8,515.3 1572.8,515.4 1572.7,515.5 1572.7,515.6 1572.7,515.7 1572.7,515.7 1572.7,515.8 1572.5,516.6 1572.1,520.1 1571.9,523.2 1571.8,526.2 1571.6,529.1 1571.2,531.9 1570.8,534.6 1570.1,537.1 1569.4,539.5 1568.8,541.8 1568.2,544.1 1567.6,546.4 1567.0,548.7 1566.4,550.9 1565.8,553.1 1565.0,555.2 1564.2,557.3 1563.3,559.4 1562.4,561.4 1561.4,563.5 1560.5,565.6 1559.5,567.8 1558.6,570.0 1557.7,572.2 1556.8,574.5 1556.0,576.9 1555.2,579.4 1554.4,581.9 1553.7,584.6 1553.0,587.4 1552.4,590.3 1551.8,593.3 1551.3,596.4 1550.9,599.7 1550.5,603.2 1550.2,606.8 1549.9,610.5 1549.8,614.5 1549.7,618.6 1549.7,622.9 1549.9,627.5 1550.1,633.5 1550.5,639.3 1551.0,644.9 1551.6,650.3 1552.3,655.6 1553.1,660.7 1554.0,665.7 1555.0,670.5 1556.1,675.2 1557.3,679.7 1558.6,684.1 1560.0,688.4 1561.4,692.5 1562.9,696.6 1564.5,700.5 1566.2,704.3 1567.9,708.1 1569.7,711.7 1571.6,715.2 1573.5,718.7 1575.5,722.1 1577.5,725.4 1579.6,728.6 1581.7,731.8 1583.8,735.0 1586.0,738.1 1588.2,741.1 1590.4,744.1 1592.7,747.1 1595.0,750.1 1597.3,753.1 1599.6,756.0 1601.9,759.0 1604.3,761.9 1606.6,764.9 1608.9,767.9 1611.3,770.9 1613.6,773.9 1615.9,777.0 1618.2,780.1 1626.4,774.1 1624.0,770.9 1621.6,767.8 1619.3,764.7 1616.9,761.6 1614.5,758.6 1612.2,755.7 1609.9,752.7 1607.5,749.8 1605.2,746.8 1603.0,743.9 1600.7,741.0 1598.5,738.1 1596.4,735.1 1594.2,732.2 1592.1,729.2 1590.1,726.2 1588.1,723.1 1586.1,720.0 1584.2,716.9 1582.3,713.7 1580.5,710.4 1578.7,707.1 1577.0,703.7 1575.4,700.2 1573.8,696.6 1572.3,692.9 1570.9,689.1 1569.5,685.2 1568.3,681.2 1567.0,677.0 1565.9,672.7 1564.9,668.3 1563.9,663.8 1563.1,659.0 1562.3,654.2 1561.6,649.1 1561.0,643.9 1560.6,638.5 1560.2,632.9 1559.9,627.1 1559.8,622.8 1559.8,618.7 1559.9,614.7 1560.0,611.0 1560.2,607.5 1560.5,604.1 1560.9,600.9 1561.3,597.9 1561.8,595.0 1562.3,592.3 1562.8,589.7 1563.5,587.1 1564.1,584.7 1564.8,582.4 1565.6,580.2 1566.3,578.0 1567.1,575.9 1568.0,573.8 1568.8,571.7 1569.7,569.7 1570.6,567.7 1571.6,565.7 1572.5,563.6 1573.5,561.6 1574.6,559.6 1575.8,557.6 1577.0,555.5 1578.2,553.4 1579.5,551.2 1580.7,548.9 1581.9,546.5 1582.9,544.0 1583.9,541.3 1584.8,538.6 1585.8,535.7 1586.9,532.7 1588.0,529.6 1589.1,526.3 1590.0,522.9 1590.7,519.4 1590.6,520.0 1590.6,519.9 1590.6,519.8 1590.7,519.6 1590.7,519.5 1590.7,519.4 1590.7,519.3 1590.8,519.2 1590.8,519.1 1590.8,519.0 1590.8,518.9 1590.8,518.8 1590.9,518.7 1590.9,518.6 1590.9,518.5 1590.9,518.4 1591.0,518.3 1591.0,518.2 1591.0,518.1 1591.0,518.0 1591.1,517.9 1591.1,517.8 1591.1,517.7 1591.1,517.6 1591.1,517.5 1591.2,517.4 1591.2,517.3 1591.2,517.2 1591.2,517.1 1591.3,517.0 1591.3,516.9 1591.3,516.8 1591.3,516.7 1591.3,516.6 1591.4,516.5 1591.4,516.4 1591.4,516.3 1591.4,516.3 1591.4,516.2 1591.5,516.1" fill="#a78e76" stroke="#000" stroke-width="3.4" stroke-linejoin="round"/>
<path d="M1133 183 C1140 150 1160 112 1185 87" fill="none" stroke="#000" stroke-width="4.5"/>
<polygon points="1206.7,59.3 1166,79.7 1182.5,89 1189.3,101.5" fill="#000"/>
<path d="M1599.4 804 C1570 780 1550 740 1538 712" fill="none" stroke="#000" stroke-width="4.5"/>
<polygon points="1521.8,675.5 1524.8,721.8 1538.2,711.3 1553.1,706.9" fill="#000"/>
<rect x="1735.8" y="596" width="95" height="500" fill="url(#cyl)"/>
<rect x="1736" y="928.4" width="93" height="166" fill="url(#blue)"/>
<rect x="1736" y="908" width="93" height="20.4" fill="#e2d354"/>
<line x1="1800.3" y1="642.8" x2="1830" y2="642.8" stroke="#000" stroke-width="3"/>
<line x1="1800.3" y1="667.7" x2="1830" y2="667.7" stroke="#000" stroke-width="3"/>
<line x1="1800.3" y1="692.6" x2="1830" y2="692.6" stroke="#000" stroke-width="3"/>
<line x1="1800.3" y1="717.6" x2="1830" y2="717.6" stroke="#000" stroke-width="3"/>
<line x1="1800.3" y1="742.5" x2="1830" y2="742.5" stroke="#000" stroke-width="3"/>
<line x1="1800.3" y1="767.4" x2="1830" y2="767.4" stroke="#000" stroke-width="3"/>
<line x1="1800.3" y1="792.3" x2="1830" y2="792.3" stroke="#000" stroke-width="3"/>
<line x1="1800.3" y1="817.2" x2="1830" y2="817.2" stroke="#000" stroke-width="3"/>
<line x1="1800.3" y1="842.2" x2="1830" y2="842.2" stroke="#000" stroke-width="3"/>
<line x1="1800.3" y1="867.1" x2="1830" y2="867.1" stroke="#000" stroke-width="3"/>
<line x1="1800.3" y1="892.0" x2="1830" y2="892.0" stroke="#000" stroke-width="3"/>
<line x1="1800.3" y1="916.9" x2="1830" y2="916.9" stroke="#000" stroke-width="3"/>
<line x1="1800.3" y1="941.8" x2="1830" y2="941.8" stroke="#000" stroke-width="3"/>
<line x1="1800.3" y1="966.8" x2="1830" y2="966.8" stroke="#000" stroke-width="3"/>
<line x1="1800.3" y1="991.7" x2="1830" y2="991.7" stroke="#000" stroke-width="3"/>
<line x1="1800.3" y1="1016.6" x2="1830" y2="1016.6" stroke="#000" stroke-width="3"/>
<line x1="1800.3" y1="1041.5" x2="1830" y2="1041.5" stroke="#000" stroke-width="3"/>
<line x1="1815.3" y1="645.3" x2="1830" y2="645.3" stroke="#000" stroke-width="1.1"/>
<line x1="1815.3" y1="647.8" x2="1830" y2="647.8" stroke="#000" stroke-width="1.1"/>
<line x1="1815.3" y1="650.3" x2="1830" y2="650.3" stroke="#000" stroke-width="1.1"/>
<line x1="1815.3" y1="652.8" x2="1830" y2="652.8" stroke="#000" stroke-width="1.1"/>
<line x1="1812.6" y1="655.3" x2="1830" y2="655.3" stroke="#000" stroke-width="1.8"/>
<line x1="1815.3" y1="657.8" x2="1830" y2="657.8" stroke="#000" stroke-width="1.1"/>
<line x1="1815.3" y1="660.2" x2="1830" y2="660.2" stroke="#000" stroke-width="1.1"/>
<line x1="1815.3" y1="662.7" x2="1830" y2="662.7" stroke="#000" stroke-width="1.1"/>
<line x1="1815.3" y1="665.2" x2="1830" y2="665.2" stroke="#000" stroke-width="1.1"/>
<line x1="1815.3" y1="670.2" x2="1830" y2="670.2" stroke="#000" stroke-width="1.1"/>
<line x1="1815.3" y1="672.7" x2="1830" y2="672.7" stroke="#000" stroke-width="1.1"/>
<line x1="1815.3" y1="675.2" x2="1830" y2="675.2" stroke="#000" stroke-width="1.1"/>
<line x1="1815.3" y1="677.7" x2="1830" y2="677.7" stroke="#000" stroke-width="1.1"/>
<line x1="1812.6" y1="680.2" x2="1830" y2="680.2" stroke="#000" stroke-width="1.8"/>
<line x1="1815.3" y1="682.7" x2="1830" y2="682.7" stroke="#000" stroke-width="1.1"/>
<line x1="1815.3" y1="685.2" x2="1830" y2="685.2" stroke="#000" stroke-width="1.1"/>
<line x1="1815.3" y1="687.7" x2="1830" y2="687.7" stroke="#000" stroke-width="1.1"/>
<line x1="1815.3" y1="690.1" x2="1830" y2="690.1" stroke="#000" stroke-width="1.1"/>
<line x1="1815.3" y1="695.1" x2="1830" y2="695.1" stroke="#000" stroke-width="1.1"/>
<line x1="1815.3" y1="697.6" x2="1830" y2="697.6" stroke="#000" stroke-width="1.1"/>
<line x1="1815.3" y1="700.1" x2="1830" y2="700.1" stroke="#000" stroke-width="1.1"/>
<line x1="1815.3" y1="702.6" x2="1830" y2="702.6" stroke="#000" stroke-width="1.1"/>
<line x1="1812.6" y1="705.1" x2="1830" y2="705.1" stroke="#000" stroke-width="1.8"/>
<line x1="1815.3" y1="707.6" x2="1830" y2="707.6" stroke="#000" stroke-width="1.1"/>
<line x1="1815.3" y1="710.1" x2="1830" y2="710.1" stroke="#000" stroke-width="1.1"/>
<line x1="1815.3" y1="712.6" x2="1830" y2="712.6" stroke="#000" stroke-width="1.1"/>
<line x1="1815.3" y1="715.1" x2="1830" y2="715.1" stroke="#000" stroke-width="1.1"/>
<line x1="1815.3" y1="720.1" x2="1830" y2="720.1" stroke="#000" stroke-width="1.1"/>
<line x1="1815.3" y1="722.5" x2="1830" y2="722.5" stroke="#000" stroke-width="1.1"/>
<line x1="1815.3" y1="725.0" x2="1830" y2="725.0" stroke="#000" stroke-width="1.1"/>
<line x1="1815.3" y1="727.5" x2="1830" y2="727.5" stroke="#000" stroke-width="1.1"/>
<line x1="1812.6" y1="730.0" x2="1830" y2="730.0" stroke="#000" stroke-width="1.8"/>
<line x1="1815.3" y1="732.5" x2="1830" y2="732.5" stroke="#000" stroke-width="1.1"/>
<line x1="1815.3" y1="735.0" x2="1830" y2="735.0" stroke="#000" stroke-width="1.1"/>
<line x1="1815.3" y1="737.5" x2="1830" y2="737.5" stroke="#000" stroke-width="1.1"/>
<line x1="1815.3" y1="740.0" x2="1830" y2="740.0" stroke="#000" stroke-width="1.1"/>
<line x1="1815.3" y1="745.0" x2="1830" y2="745.0" stroke="#000" stroke-width="1.1"/>
<line x1="1815.3" y1="747.5" x2="1830" y2="747.5" stroke="#000" stroke-width="1.1"/>
<line x1="1815.3" y1="750.0" x2="1830" y2="750.0" stroke="#000" stroke-width="1.1"/>
<line x1="1815.3" y1="752.4" x2="1830" y2="752.4" stroke="#000" stroke-width="1.1"/>
<line x1="1812.6" y1="754.9" x2="1830" y2="754.9" stroke="#000" stroke-width="1.8"/>
<line x1="1815.3" y1="757.4" x2="1830" y2="757.4" stroke="#000" stroke-width="1.1"/>
<line x1="1815.3" y1="759.9" x2="1830" y2="759.9" stroke="#000" stroke-width="1.1"/>
<line x1="1815.3" y1="762.4" x2="1830" y2="762.4" stroke="#000" stroke-width="1.1"/>
<line x1="1815.3" y1="764.9" x2="1830" y2="764.9" stroke="#000" stroke-width="1.1"/>
<line x1="1815.3" y1="769.9" x2="1830" y2="769.9" stroke="#000" stroke-width="1.1"/>
<line x1="1815.3" y1="772.4" x2="1830" y2="772.4" stroke="#000" stroke-width="1.1"/>
<line x1="1815.3" y1="774.9" x2="1830" y2="774.9" stroke="#000" stroke-width="1.1"/>
<line x1="1815.3" y1="777.4" x2="1830" y2="777.4" stroke="#000" stroke-width="1.1"/>
<line x1="1812.6" y1="779.9" x2="1830" y2="779.9" stroke="#000" stroke-width="1.8"/>
<line x1="1815.3" y1="782.4" x2="1830" y2="782.4" stroke="#000" stroke-width="1.1"/>
<line x1="1815.3" y1="784.8" x2="1830" y2="784.8" stroke="#000" stroke-width="1.1"/>
<line x1="1815.3" y1="787.3" x2="1830" y2="787.3" stroke="#000" stroke-width="1.1"/>
<line x1="1815.3" y1="789.8" x2="1830" y2="789.8" stroke="#000" stroke-width="1.1"/>
<line x1="1815.3" y1="794.8" x2="1830" y2="794.8" stroke="#000" stroke-width="1.1"/>
<line x1="1815.3" y1="797.3" x2="1830" y2="797.3" stroke="#000" stroke-width="1.1"/>
<line x1="1815.3" y1="799.8" x2="1830" y2="799.8" stroke="#000" stroke-width="1.1"/>
<line x1="1815.3" y1="802.3" x2="1830" y2="802.3" stroke="#000" stroke-width="1.1"/>
<line x1="1812.6" y1="804.8" x2="1830" y2="804.8" stroke="#000" stroke-width="1.8"/>
<line x1="1815.3" y1="807.3" x2="1830" y2="807.3" stroke="#000" stroke-width="1.1"/>
<line x1="1815.3" y1="809.8" x2="1830" y2="809.8" stroke="#000" stroke-width="1.1"/>
<line x1="1815.3" y1="812.3" x2="1830" y2="812.3" stroke="#000" stroke-width="1.1"/>
<line x1="1815.3" y1="814.7" x2="1830" y2="814.7" stroke="#000" stroke-width="1.1"/>
<line x1="1815.3" y1="819.7" x2="1830" y2="819.7" stroke="#000" stroke-width="1.1"/>
<line x1="1815.3" y1="822.2" x2="1830" y2="822.2" stroke="#000" stroke-width="1.1"/>
<line x1="1815.3" y1="824.7" x2="1830" y2="824.7" stroke="#000" stroke-width="1.1"/>
<line x1="1815.3" y1="827.2" x2="1830" y2="827.2" stroke="#000" stroke-width="1.1"/>
<line x1="1812.6" y1="829.7" x2="1830" y2="829.7" stroke="#000" stroke-width="1.8"/>
<line x1="1815.3" y1="832.2" x2="1830" y2="832.2" stroke="#000" stroke-width="1.1"/>
<line x1="1815.3" y1="834.7" x2="1830" y2="834.7" stroke="#000" stroke-width="1.1"/>
<line x1="1815.3" y1="837.2" x2="1830" y2="837.2" stroke="#000" stroke-width="1.1"/>
<line x1="1815.3" y1="839.7" x2="1830" y2="839.7" stroke="#000" stroke-width="1.1"/>
<line x1="1815.3" y1="844.7" x2="1830" y2="844.7" stroke="#000" stroke-width="1.1"/>
<line x1="1815.3" y1="847.1" x2="1830" y2="847.1" stroke="#000" stroke-width="1.1"/>
<line x1="1815.3" y1="849.6" x2="1830" y2="849.6" stroke="#000" stroke-width="1.1"/>
<line x1="1815.3" y1="852.1" x2="1830" y2="852.1" stroke="#000" stroke-width="1.1"/>
<line x1="1812.6" y1="854.6" x2="1830" y2="854.6" stroke="#000" stroke-width="1.8"/>
<line x1="1815.3" y1="857.1" x2="1830" y2="857.1" stroke="#000" stroke-width="1.1"/>
<line x1="1815.3" y1="859.6" x2="1830" y2="859.6" stroke="#000" stroke-width="1.1"/>
<line x1="1815.3" y1="862.1" x2="1830" y2="862.1" stroke="#000" stroke-width="1.1"/>
<line x1="1815.3" y1="864.6" x2="1830" y2="864.6" stroke="#000" stroke-width="1.1"/>
<line x1="1815.3" y1="869.6" x2="1830" y2="869.6" stroke="#000" stroke-width="1.1"/>
<line x1="1815.3" y1="872.1" x2="1830" y2="872.1" stroke="#000" stroke-width="1.1"/>
<line x1="1815.3" y1="874.6" x2="1830" y2="874.6" stroke="#000" stroke-width="1.1"/>
<line x1="1815.3" y1="877.0" x2="1830" y2="877.0" stroke="#000" stroke-width="1.1"/>
<line x1="1812.6" y1="879.5" x2="1830" y2="879.5" stroke="#000" stroke-width="1.8"/>
<line x1="1815.3" y1="882.0" x2="1830" y2="882.0" stroke="#000" stroke-width="1.1"/>
<line x1="1815.3" y1="884.5" x2="1830" y2="884.5" stroke="#000" stroke-width="1.1"/>
<line x1="1815.3" y1="887.0" x2="1830" y2="887.0" stroke="#000" stroke-width="1.1"/>
<line x1="1815.3" y1="889.5" x2="1830" y2="889.5" stroke="#000" stroke-width="1.1"/>
<line x1="1815.3" y1="894.5" x2="1830" y2="894.5" stroke="#000" stroke-width="1.1"/>
<line x1="1815.3" y1="897.0" x2="1830" y2="897.0" stroke="#000" stroke-width="1.1"/>
<line x1="1815.3" y1="899.5" x2="1830" y2="899.5" stroke="#000" stroke-width="1.1"/>
<line x1="1815.3" y1="902.0" x2="1830" y2="902.0" stroke="#000" stroke-width="1.1"/>
<line x1="1812.6" y1="904.5" x2="1830" y2="904.5" stroke="#000" stroke-width="1.8"/>
<line x1="1815.3" y1="907.0" x2="1830" y2="907.0" stroke="#000" stroke-width="1.1"/>
<line x1="1815.3" y1="909.4" x2="1830" y2="909.4" stroke="#000" stroke-width="1.1"/>
<line x1="1815.3" y1="911.9" x2="1830" y2="911.9" stroke="#000" stroke-width="1.1"/>
<line x1="1815.3" y1="914.4" x2="1830" y2="914.4" stroke="#000" stroke-width="1.1"/>
<line x1="1815.3" y1="919.4" x2="1830" y2="919.4" stroke="#000" stroke-width="1.1"/>
<line x1="1815.3" y1="921.9" x2="1830" y2="921.9" stroke="#000" stroke-width="1.1"/>
<line x1="1815.3" y1="924.4" x2="1830" y2="924.4" stroke="#000" stroke-width="1.1"/>
<line x1="1815.3" y1="926.9" x2="1830" y2="926.9" stroke="#000" stroke-width="1.1"/>
<line x1="1812.6" y1="929.4" x2="1830" y2="929.4" stroke="#000" stroke-width="1.8"/>
<line x1="1815.3" y1="931.9" x2="1830" y2="931.9" stroke="#000" stroke-width="1.1"/>
<line x1="1815.3" y1="934.4" x2="1830" y2="934.4" stroke="#000" stroke-width="1.1"/>
<line x1="1815.3" y1="936.9" x2="1830" y2="936.9" stroke="#000" stroke-width="1.1"/>
<line x1="1815.3" y1="939.3" x2="1830" y2="939.3" stroke="#000" stroke-width="1.1"/>
<line x1="1815.3" y1="944.3" x2="1830" y2="944.3" stroke="#000" stroke-width="1.1"/>
<line x1="1815.3" y1="946.8" x2="1830" y2="946.8" stroke="#000" stroke-width="1.1"/>
<line x1="1815.3" y1="949.3" x2="1830" y2="949.3" stroke="#000" stroke-width="1.1"/>
<line x1="1815.3" y1="951.8" x2="1830" y2="951.8" stroke="#000" stroke-width="1.1"/>
<line x1="1812.6" y1="954.3" x2="1830" y2="954.3" stroke="#000" stroke-width="1.8"/>
<line x1="1815.3" y1="956.8" x2="1830" y2="956.8" stroke="#000" stroke-width="1.1"/>
<line x1="1815.3" y1="959.3" x2="1830" y2="959.3" stroke="#000" stroke-width="1.1"/>
<line x1="1815.3" y1="961.8" x2="1830" y2="961.8" stroke="#000" stroke-width="1.1"/>
<line x1="1815.3" y1="964.3" x2="1830" y2="964.3" stroke="#000" stroke-width="1.1"/>
<line x1="1815.3" y1="969.3" x2="1830" y2="969.3" stroke="#000" stroke-width="1.1"/>
<line x1="1815.3" y1="971.7" x2="1830" y2="971.7" stroke="#000" stroke-width="1.1"/>
<line x1="1815.3" y1="974.2" x2="1830" y2="974.2" stroke="#000" stroke-width="1.1"/>
<line x1="1815.3" y1="976.7" x2="1830" y2="976.7" stroke="#000" stroke-width="1.1"/>
<line x1="1812.6" y1="979.2" x2="1830" y2="979.2" stroke="#000" stroke-width="1.8"/>
<line x1="1815.3" y1="981.7" x2="1830" y2="981.7" stroke="#000" stroke-width="1.1"/>
<line x1="1815.3" y1="984.2" x2="1830" y2="984.2" stroke="#000" stroke-width="1.1"/>
<line x1="1815.3" y1="986.7" x2="1830" y2="986.7" stroke="#000" stroke-width="1.1"/>
<line x1="1815.3" y1="989.2" x2="1830" y2="989.2" stroke="#000" stroke-width="1.1"/>
<line x1="1815.3" y1="994.2" x2="1830" y2="994.2" stroke="#000" stroke-width="1.1"/>
<line x1="1815.3" y1="996.7" x2="1830" y2="996.7" stroke="#000" stroke-width="1.1"/>
<line x1="1815.3" y1="999.2" x2="1830" y2="999.2" stroke="#000" stroke-width="1.1"/>
<line x1="1815.3" y1="1001.6" x2="1830" y2="1001.6" stroke="#000" stroke-width="1.1"/>
<line x1="1812.6" y1="1004.1" x2="1830" y2="1004.1" stroke="#000" stroke-width="1.8"/>
<line x1="1815.3" y1="1006.6" x2="1830" y2="1006.6" stroke="#000" stroke-width="1.1"/>
<line x1="1815.3" y1="1009.1" x2="1830" y2="1009.1" stroke="#000" stroke-width="1.1"/>
<line x1="1815.3" y1="1011.6" x2="1830" y2="1011.6" stroke="#000" stroke-width="1.1"/>
<line x1="1815.3" y1="1014.1" x2="1830" y2="1014.1" stroke="#000" stroke-width="1.1"/>
<line x1="1815.3" y1="1019.1" x2="1830" y2="1019.1" stroke="#000" stroke-width="1.1"/>
<line x1="1815.3" y1="1021.6" x2="1830" y2="1021.6" stroke="#000" stroke-width="1.1"/>
<line x1="1815.3" y1="1024.1" x2="1830" y2="1024.1" stroke="#000" stroke-width="1.1"/>
<line x1="1815.3" y1="1026.6" x2="1830" y2="1026.6" stroke="#000" stroke-width="1.1"/>
<line x1="1812.6" y1="1029.1" x2="1830" y2="1029.1" stroke="#000" stroke-width="1.8"/>
<line x1="1815.3" y1="1031.6" x2="1830" y2="1031.6" stroke="#000" stroke-width="1.1"/>
<line x1="1815.3" y1="1034.0" x2="1830" y2="1034.0" stroke="#000" stroke-width="1.1"/>
<line x1="1815.3" y1="1036.5" x2="1830" y2="1036.5" stroke="#000" stroke-width="1.1"/>
<line x1="1815.3" y1="1039.0" x2="1830" y2="1039.0" stroke="#000" stroke-width="1.1"/>
<line x1="1815.3" y1="1044.0" x2="1830" y2="1044.0" stroke="#000" stroke-width="1.1"/>
<line x1="1815.3" y1="1046.5" x2="1830" y2="1046.5" stroke="#000" stroke-width="1.1"/>
<line x1="1815.3" y1="1049.0" x2="1830" y2="1049.0" stroke="#000" stroke-width="1.1"/>
<line x1="1815.3" y1="1051.5" x2="1830" y2="1051.5" stroke="#000" stroke-width="1.1"/>
<line x1="1812.6" y1="1054.0" x2="1830" y2="1054.0" stroke="#000" stroke-width="1.8"/>
<line x1="1815.3" y1="1056.5" x2="1830" y2="1056.5" stroke="#000" stroke-width="1.1"/>
<line x1="1815.3" y1="1059.0" x2="1830" y2="1059.0" stroke="#000" stroke-width="1.1"/>
<line x1="1815.3" y1="1061.5" x2="1830" y2="1061.5" stroke="#000" stroke-width="1.1"/>
<path d="M1731 598 L1733.3 1096" fill="none" stroke="#000" stroke-width="4"/>
<path d="M1851.6 599.4 C1840 610 1833.7 625 1833.7 645 L1832 1096" fill="none" stroke="#000" stroke-width="4"/>
<path d="M1733.3 1096 H1832 C1834 1105 1840 1115 1854.5 1121.5 H1705 C1720 1115 1731 1105 1733.3 1096 Z" fill="#fff" stroke="#000" stroke-width="4" stroke-linejoin="miter"/>
</svg></body></html>
